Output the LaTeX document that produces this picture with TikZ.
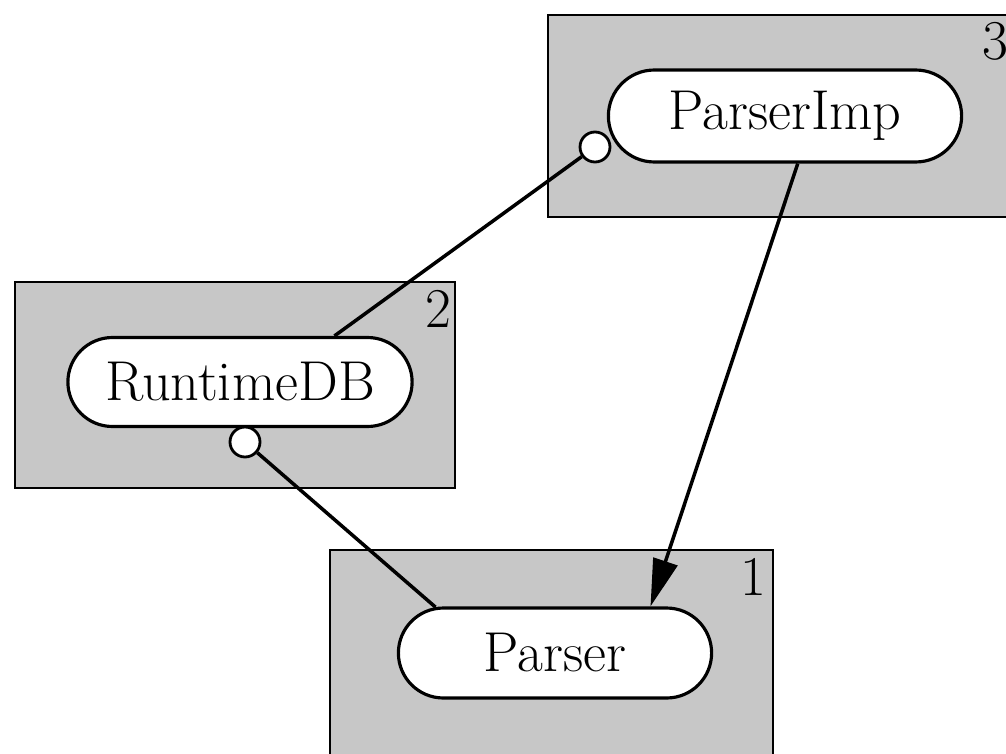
\documentclass[tikz,border=0pt]{standalone}
\usetikzlibrary{shapes.misc,arrows.meta,calc}
\begin{document}
\begin{tikzpicture}[x=0.02cm,y=-0.02cm,
    unit/.style={draw, line width=1.6pt, fill=black!22, rectangle},
    comp/.style={draw, line width=1.8pt, fill=white, rounded rectangle,
      font=\fontsize{32}{38}\selectfont},
    port/.style={draw, line width=1.6pt, fill=white, circle, inner sep=0pt, minimum size=0.6cm},
    tag/.style={anchor=north east, inner sep=0pt, font=\fontsize{32}{38}\selectfont}]
  \useasboundingbox (0,0) rectangle (1006,753);
  \clip (0,0) rectangle (1006,753);

  % Shaded units with their numbers
  \node[unit, minimum width=9.34cm, minimum height=4.04cm] (u3) at (781.5,116) {};
  \node[unit, minimum width=8.8cm, minimum height=4.12cm] (u2) at (235,385) {};
  \node[unit, minimum width=8.86cm, minimum height=4.8cm] (u1) at (551.5,670) {};
  \node[tag] (t3) at (1009,22) {3};
  \node[tag] (t2) at (452,290) {2};
  \node[tag] (t1) at (767,558) {1};

  % Components
  \node[comp, minimum width=7.3cm, minimum height=1.84cm] (pimp) at (785,116) {ParserImp};
  \node[comp, minimum width=7.12cm, minimum height=1.78cm] (rtdb) at (240,382) {RuntimeDB};
  \node[comp, minimum width=6.5cm, minimum height=1.8cm] (pars) at (555,653) {Parser};

  % Ports
  \node[port] (pimpport) at (595,147) {};
  \node[port] (rtdbport) at (245,442) {};

  % Connectors
  \draw[line width=2pt] (pimpport) -- (rtdb.26.6);
  \draw[line width=2pt] (rtdbport) -- (pars.159);
  \draw[line width=2pt, -{Triangle[length=0.95cm, width=0.5cm]}] (pimp.-75) -- (pars.26.6);
\end{tikzpicture}
\end{document}
